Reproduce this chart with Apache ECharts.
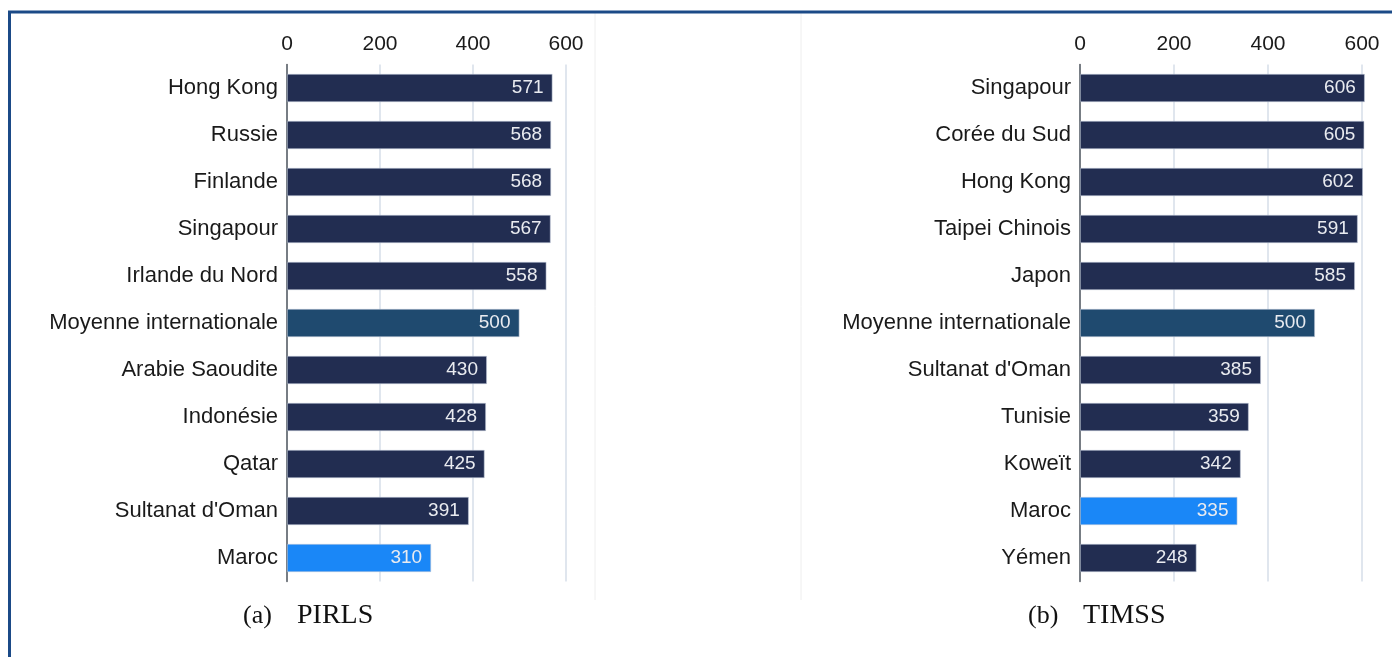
<!DOCTYPE html>
<html>
<head>
<meta charset="utf-8">
<style>
html,body{margin:0;padding:0;background:#fff;}
#c{width:1392px;height:657px;}
</style>
<script src="https://cdn.jsdelivr.net/npm/echarts@6/dist/echarts.min.js"></script>
</head>
<body>
<div id="c"></div>
<script>
var pirlsCategories = ['Hong Kong','Russie','Finlande','Singapour','Irlande du Nord','Moyenne internationale','Arabie Saoudite','Indonésie','Qatar',"Sultanat d'Oman",'Maroc'];
var pirlsValues = [571,568,568,567,558,500,430,428,425,391,310];
var timssCategories = ['Singapour','Corée du Sud','Hong Kong','Taipei Chinois','Japon','Moyenne internationale',"Sultanat d'Oman",'Tunisie','Koweït','Maroc','Yémen'];
var timssValues = [606,605,602,591,585,500,385,359,342,335,248];
var axisTicks = [0,200,400,600];
var captions = [['(a)','PIRLS'],['(b)','TIMSS']];

var chart = echarts.init(document.getElementById('c'), null, {renderer:'canvas'});

function barColor(name){
  if (name === 'Moyenne internationale') return '#1f4a6f';
  if (name === 'Maroc') return '#1a87f7';
  return '#222d51';
}

function xAxisDef(gi){
  return {
    type:'value', gridIndex:gi, position:'top', min:axisTicks[0], max:axisTicks[axisTicks.length-1], interval:axisTicks[1]-axisTicks[0],
    axisLine:{show:false}, axisTick:{show:false},
    axisLabel:{color:'#1a1a1a', fontSize:21, fontFamily:'Liberation Sans, Arial, sans-serif', margin:10},
    splitLine:{show:true, lineStyle:{color:'#d6dee9', width:1.5}}
  };
}
function yAxisDef(gi, cats){
  return {
    type:'category', gridIndex:gi, data:cats, inverse:true,
    axisLine:{show:true, lineStyle:{color:'#555a60', width:1.5}},
    axisTick:{show:false},
    axisLabel:{color:'#1a1a1a', fontSize:22, fontFamily:'Liberation Sans, Arial, sans-serif', margin:9}
  };
}
function seriesDef(gi, cats, vals){
  return {
    type:'bar', xAxisIndex:gi, yAxisIndex:gi, clip:false,
    barCategoryGap:'40%',
    data: vals.map(function(v,i){ return {value:v, itemStyle:{color:barColor(cats[i])}}; }),
    itemStyle:{borderColor:'rgba(190,200,215,0.7)', borderWidth:0.8},
    label:{show:true, position:'insideRight', distance:9, color:'#e9ebf0', fontSize:19, fontFamily:'Liberation Sans, Arial, sans-serif'}
  };
}

var graphics = [
  {type:'line', shape:{x1:595, y1:13, x2:595, y2:600}, style:{stroke:'#eeeeee', lineWidth:1}, silent:true},
  {type:'line', shape:{x1:801, y1:13, x2:801, y2:600}, style:{stroke:'#eeeeee', lineWidth:1}, silent:true},
  {type:'line', shape:{x1:8, y1:12, x2:1392, y2:12}, style:{stroke:'#1b4a87', lineWidth:3}, silent:true},
  {type:'line', shape:{x1:9.5, y1:11, x2:9.5, y2:657}, style:{stroke:'#1b4a87', lineWidth:3}, silent:true},
  {type:'text', x:243, y:616, style:{text:captions[0][0], font:'26px "Liberation Serif", serif', fill:'#111', verticalAlign:'middle'}},
  {type:'text', x:297, y:616, style:{text:captions[0][1], font:'28px "Liberation Serif", serif', fill:'#111', verticalAlign:'middle'}},
  {type:'text', x:1028, y:616, style:{text:captions[1][0], font:'26px "Liberation Serif", serif', fill:'#111', verticalAlign:'middle'}},
  {type:'text', x:1083, y:616, style:{text:captions[1][1], font:'28px "Liberation Serif", serif', fill:'#111', verticalAlign:'middle'}}
];

chart.setOption({
  animation:false,
  backgroundColor:'#ffffff',
  grid:[
    {left:287, right:826, top:64.5, height:517},
    {left:1080, right:30, top:64.5, height:517}
  ],
  xAxis:[xAxisDef(0), xAxisDef(1)],
  yAxis:[yAxisDef(0, pirlsCategories), yAxisDef(1, timssCategories)],
  series:[seriesDef(0, pirlsCategories, pirlsValues), seriesDef(1, timssCategories, timssValues)],
  graphic:graphics
});
</script>
</body>
</html>
